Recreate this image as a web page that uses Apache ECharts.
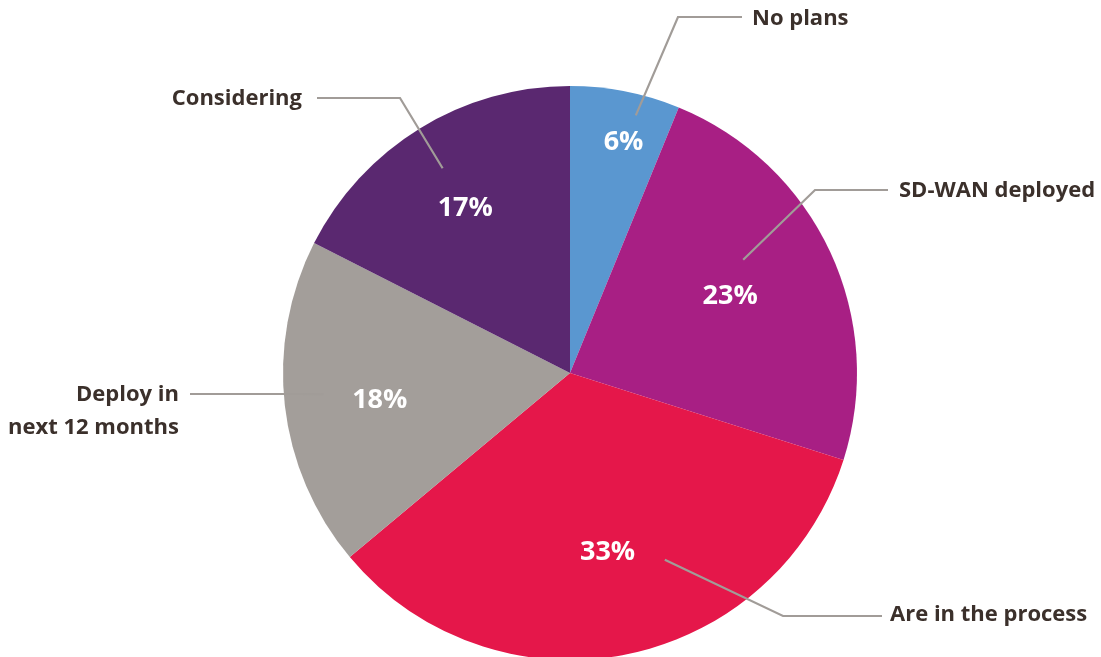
<!DOCTYPE html>
<html>
<head>
<meta charset="utf-8">
<script src="https://cdn.jsdelivr.net/npm/echarts@6/dist/echarts.min.js"></script>
<style>
html,body{margin:0;padding:0;background:#fff;}
#c{width:1101px;height:657px;}
</style>
</head>
<body>
<div id="c"></div>
<script>
// ---- data ----
const categories = ['No plans', 'SD-WAN deployed', 'Are in the process', 'Deploy in\nnext 12 months', 'Considering'];
const values = [6, 23, 33, 18, 17];
const colors = ['#5A97D0', '#A81F84', '#E5174A', '#A39E9A', '#5A2870'];

// ---- layout (label placement only) ----
const calloutPos = [
  { x: 752, y: 19, align: 'left', elbow: [678, 17], end: [742, 17], nudge: [21, -30] },
  { x: 899, y: 191, align: 'left', elbow: [815, 190], end: [888, 190], nudge: [-37, -15] },
  { x: 890, y: 615, align: 'left', elbow: [783, 616], end: [882, 616], nudge: [50, -41] },
  { x: 179, y: 411, align: 'right', elbow: [300, 394], end: [190, 394], nudge: [-16, -5] },
  { x: 302, y: 99, align: 'right', elbow: [400, 98], end: [317, 98], nudge: [-6, -7] }
];
const pctShift = [[16, -40], [-16, 6], [0, -12], [3, 5], [-3, 1]];

const chart = echarts.init(document.getElementById('c'), null, { renderer: 'canvas' });
const data = categories.map((c, i) => ({ name: c, value: values[i] }));
const center = [570, 373];
const R = 287;

chart.setOption({
  animation: false,
  backgroundColor: '#ffffff',
  series: [
    {
      type: 'pie',
      z: 2,
      center: center,
      radius: [0, R],
      startAngle: 90,
      clockwise: true,
      silent: true,
      label: { show: false },
      labelLine: { show: false },
      data: data.map((d, i) => ({ name: d.name, value: d.value, itemStyle: { color: colors[i] } }))
    },
    {
      type: 'pie',
      z: 5,
      center: center,
      radius: [0, 232],
      startAngle: 90,
      clockwise: true,
      silent: true,
      itemStyle: { color: 'rgba(0,0,0,0)' },
      label: {
        show: true,
        position: 'outside',
        formatter: '{b}',
        color: '#3B302B',
        fontFamily: 'Open Sans',
        fontWeight: 'bold',
        fontSize: 22,
        lineHeight: 33
      },
      labelLine: { show: true, lineStyle: { color: '#A19C98', width: 2.2 } },
      labelLayout: function (p) {
        const c = calloutPos[p.dataIndex];
        const pts = p.labelLinePoints;
        const a = pts ? pts[0] : c.elbow;
        const p0 = [a[0] + c.nudge[0], a[1] + c.nudge[1]];
        return {
          x: c.x, y: c.y, align: c.align, verticalAlign: 'middle',
          labelLinePoints: [p0, c.elbow, c.end]
        };
      },
      data: data
    },
    {
      type: 'pie',
      z: 6,
      center: center,
      radius: [96, R],
      startAngle: 90,
      clockwise: true,
      silent: true,
      itemStyle: { color: 'rgba(0,0,0,0)' },
      label: {
        show: true,
        position: 'inside',
        formatter: '{c}%',
        color: '#ffffff',
        fontFamily: 'Open Sans',
        fontWeight: 'bold',
        fontSize: 27
      },
      labelLine: { show: false },
      labelLayout: function (p) {
        const s = pctShift[p.dataIndex];
        return { dx: s[0], dy: s[1] };
      },
      data: data
    }
  ]
});
</script>
</body>
</html>
